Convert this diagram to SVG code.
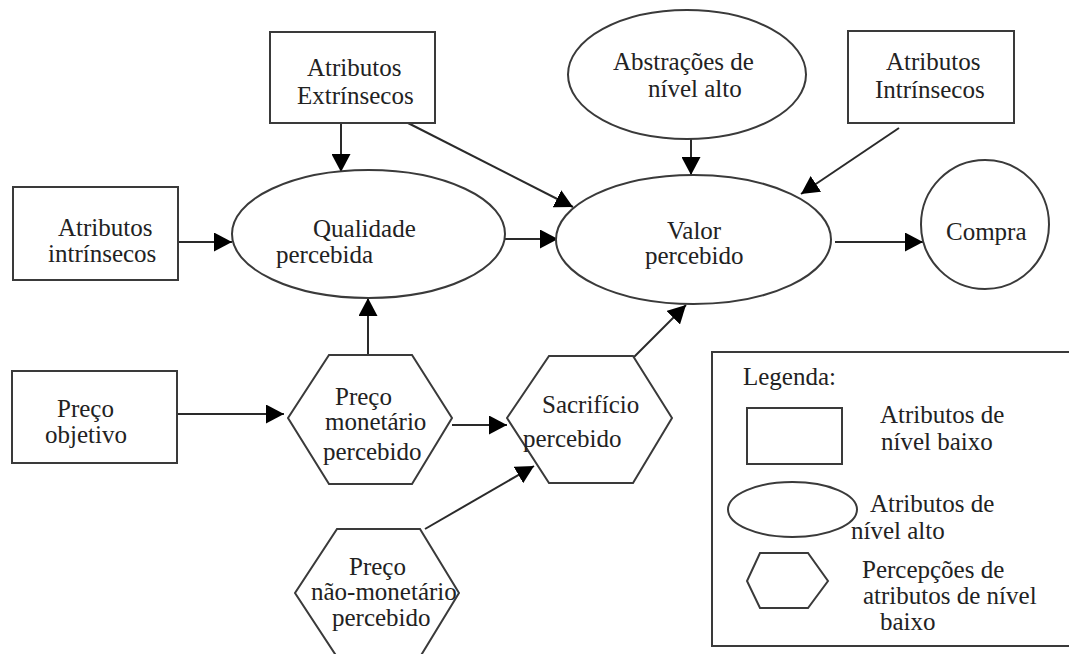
<svg xmlns="http://www.w3.org/2000/svg" width="1069" height="654" viewBox="0 0 1069 654">
<defs>
<style>
.s{fill:#fff;stroke:#3a3a3a;stroke-width:2}
.c{stroke:#2a2a2a;stroke-width:2;fill:none;marker-end:url(#ah)}
text{font-family:'Liberation Serif','Times New Roman',serif;font-size:25px;fill:#222}
</style>
<marker id="ah" markerUnits="userSpaceOnUse" markerWidth="19" markerHeight="19" refX="18" refY="9.5" orient="auto" viewBox="0 0 19 19">
<path d="M0,0 L18,9.5 L0,19 Z" fill="#000"/>
</marker>
</defs>
<rect width="1069" height="654" fill="#fff"/>

<g id="connectors">
<line class="c" x1="341" y1="118" x2="341" y2="172"/>
<line class="c" x1="408" y1="123" x2="573" y2="207"/>
<line class="c" x1="691" y1="139" x2="691" y2="175"/>
<line class="c" x1="899" y1="128" x2="801" y2="194"/>
<line class="c" x1="178" y1="242" x2="232" y2="242"/>
<line class="c" x1="505" y1="239" x2="558" y2="239"/>
<line class="c" x1="835" y1="242" x2="923" y2="242"/>
<line class="c" x1="368" y1="355" x2="368" y2="298"/>
<line class="c" x1="173" y1="414" x2="284" y2="414"/>
<line class="c" x1="452" y1="425" x2="507" y2="425"/>
<line class="c" x1="634" y1="357" x2="686" y2="305"/>
<line class="c" x1="425" y1="529" x2="534" y2="466"/>
</g>

<g id="extrinsecos">
<rect class="s" x="270" y="32" width="165" height="91"/>
<text x="307" y="76">Atributos</text>
<text x="297" y="104">Extrínsecos</text>
</g>

<g id="abstracoes">
<ellipse class="s" cx="687" cy="74.5" rx="119" ry="64.5"/>
<text x="613" y="70">Abstrações de</text>
<text x="648" y="97">nível alto</text>
</g>

<g id="intrinsecos-top">
<rect class="s" x="848" y="31" width="166" height="92"/>
<text x="886" y="70">Atributos</text>
<text x="875" y="98">Intrínsecos</text>
</g>

<g id="intrinsecos-left">
<rect class="s" x="13" y="187" width="165" height="93"/>
<text x="58" y="236">Atributos</text>
<text x="48" y="262">intrínsecos</text>
</g>

<g id="qualidade">
<ellipse class="s" cx="368.5" cy="234" rx="136.5" ry="64"/>
<text x="313" y="237">Qualidade</text>
<text x="276" y="263">percebida</text>
</g>

<g id="valor">
<ellipse class="s" cx="693.5" cy="239.5" rx="137.5" ry="64.5"/>
<text x="667" y="239">Valor</text>
<text x="645" y="264">percebido</text>
</g>

<g id="compra">
<ellipse class="s" cx="985" cy="224.5" rx="64" ry="64.5"/>
<text x="946" y="240">Compra</text>
</g>

<g id="preco-objetivo">
<rect class="s" x="12" y="371" width="165" height="92"/>
<text x="57" y="417">Preço</text>
<text x="45" y="443">objetivo</text>
</g>

<g id="preco-monetario">
<polygon class="s" points="329,355 412,355 452,418 412,484 329,484 288,418"/>
<text x="335" y="405">Preço</text>
<text x="325" y="430">monetário</text>
<text x="323" y="460">percebido</text>
</g>

<g id="sacrificio">
<polygon class="s" points="549,356 633,356 672,418 633,483 549,483 507,418"/>
<text x="542" y="413">Sacrifício</text>
<text x="523" y="447">percebido</text>
</g>

<g id="preco-nao-monetario">
<polygon class="s" points="337,529 420,529 459,593 420,657 337,657 295,593"/>
<text x="349" y="575">Preço</text>
<text x="311" y="600">não-monetário</text>
<text x="332" y="626">percebido</text>
</g>

<g id="legenda">
<rect class="s" x="712" y="352" width="362" height="294"/>
<text x="743" y="385">Legenda:</text>
<rect class="s" x="747" y="408" width="95" height="56"/>
<text x="880" y="423">Atributos de</text>
<text x="881" y="450">nível baixo</text>
<ellipse class="s" cx="792.5" cy="509.5" rx="64.5" ry="27.5"/>
<text x="870" y="512">Atributos de</text>
<text x="851" y="539">nível alto</text>
<polygon class="s" points="760,553 808,553 828,581 808,608 760,608 747,581"/>
<text x="862" y="578">Percepções de</text>
<text x="863" y="604">atributos de nível</text>
<text x="880" y="630">baixo</text>
</g>
</svg>
